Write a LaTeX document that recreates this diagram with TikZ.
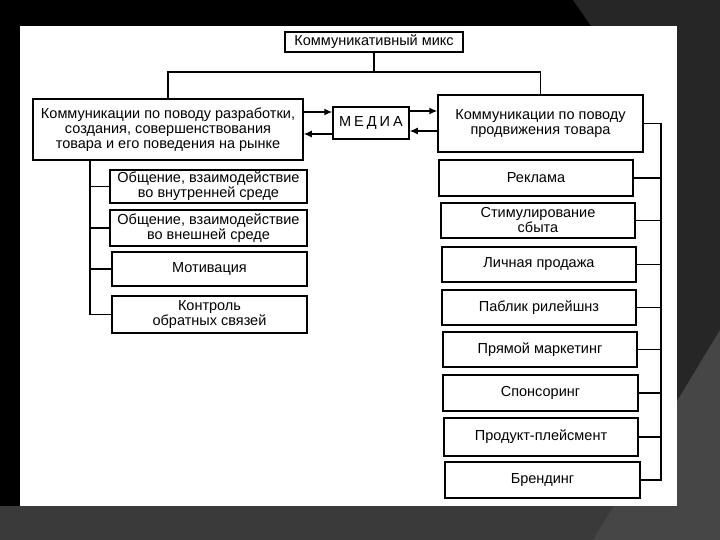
\documentclass[tikz,border=0pt]{standalone}
\usepackage{fontspec}
\setmainfont{Liberation Sans}
\usetikzlibrary{arrows.meta}
\definecolor{bgA}{HTML}{262626}
\definecolor{bgB}{HTML}{3A3A3A}
\definecolor{bgC}{HTML}{464646}
\begin{document}
\begin{tikzpicture}[x=1pt,y=-1pt,
  box/.style={draw=black, line width=1.5pt, fill=white, align=center, inner sep=1pt,
    font=\fontsize{14.5}{15}\selectfont, anchor=center},
  wire/.style={line width=1.3pt},
  arr/.style={wire, -{Latex[length=8pt,width=7pt]}}]
\useasboundingbox (0,0) rectangle (720,540);
% background
\fill[black] (0,0) rectangle (720,540);
\fill[bgA] (573,0) -- (720,0) -- (720,540) -- (0,540) -- (0,506) -- (677,506) -- (677,26) -- (591,26) -- cycle;
\fill[bgB] (0,506) rectangle (720,540);
\fill[bgC] (593,540) -- (720,330) -- (720,540) -- cycle;
\fill[white] (20,26) rectangle (677,506);
% nodes
\node[box, minimum width=178pt, minimum height=20pt] (top) at (374,42) {Коммуникативный микс};
\node[box, minimum width=270pt, minimum height=61pt] (lb) at (168,129.5)
  {Коммуникации по поводу разработки,\\создания, совершенствования\\товара и его поведения на рынке};
\node[box, minimum width=76pt, minimum height=32pt] (media) at (371,123)
  {М\hspace{3pt}Е\hspace{3pt}Д\hspace{3pt}И\hspace{3pt}А};
\node[box, minimum width=205pt, minimum height=57pt] (rb) at (540.5,123.5)
  {Коммуникации по поводу\\продвижения товара};
% left column
\node[box, minimum width=197pt, minimum height=33pt] (l1) at (208.5,186.5) {Общение, взаимодействие\\во внутренней среде};
\node[box, minimum width=197pt, minimum height=36pt] (l2) at (208.5,228) {Общение, взаимодействие\\во внешней среде};
\node[box, minimum width=195pt, minimum height=34pt] (l3) at (209.5,269) {Мотивация};
\node[box, minimum width=195pt, minimum height=37pt] (l4) at (209.5,314.5) {Контроль\\обратных связей};
% right column
\node[box, minimum width=194pt, minimum height=36pt] (r1) at (536,178) {Реклама};
\node[box, minimum width=194pt, minimum height=35pt] (r2) at (538,220.5) {Стимулирование\\сбыта};
\node[box, minimum width=194pt, minimum height=35pt] (r3) at (539,264.5) {Личная продажа};
\node[box, minimum width=194pt, minimum height=35pt] (r4) at (539,307.5) {Паблик рилейшнз};
\node[box, minimum width=194pt, minimum height=35pt] (r5) at (540,349.5) {Прямой маркетинг};
\node[box, minimum width=195pt, minimum height=36pt] (r6) at (540.5,393) {Спонсоринг};
\node[box, minimum width=194pt, minimum height=38pt] (r7) at (541,437) {Продукт-плейсмент};
\node[box, minimum width=195pt, minimum height=36pt] (r8) at (542.5,480) {Брендинг};
% connectors from the top
\coordinate (j) at (top.south |- 0,72);
\draw[wire] (top.south) -- (j) -| (lb.north);
\draw[wire] (j) -| (rb.north);
% arrows with MEDIA
\draw[arr] (lb.east |- 0,112) -- (media.west |- 0,112);
\draw[arr] (media.west |- 0,134) -- (lb.east |- 0,134);
\draw[arr] (media.east |- 0,111) -- (rb.west |- 0,111);
\draw[arr] (rb.west |- 0,131) -- (media.east |- 0,131);
% left bus
\coordinate (lj) at (lb.south -| 90,0);
\draw[wire] (lj) |- (l1.west);
\draw[wire] (lj) |- (l2.west);
\draw[wire] (lj) |- (l3.west);
\draw[wire] (lj) |- (l4.west);
% right bus
\coordinate (rj) at (rb.east -| 661,0);
\draw[wire] (rb.east) -- (rj);
\foreach \n in {r1,r2,r3,r4,r5,r6,r7,r8} \draw[wire] (rj) |- (\n.east);
\end{tikzpicture}
\end{document}
